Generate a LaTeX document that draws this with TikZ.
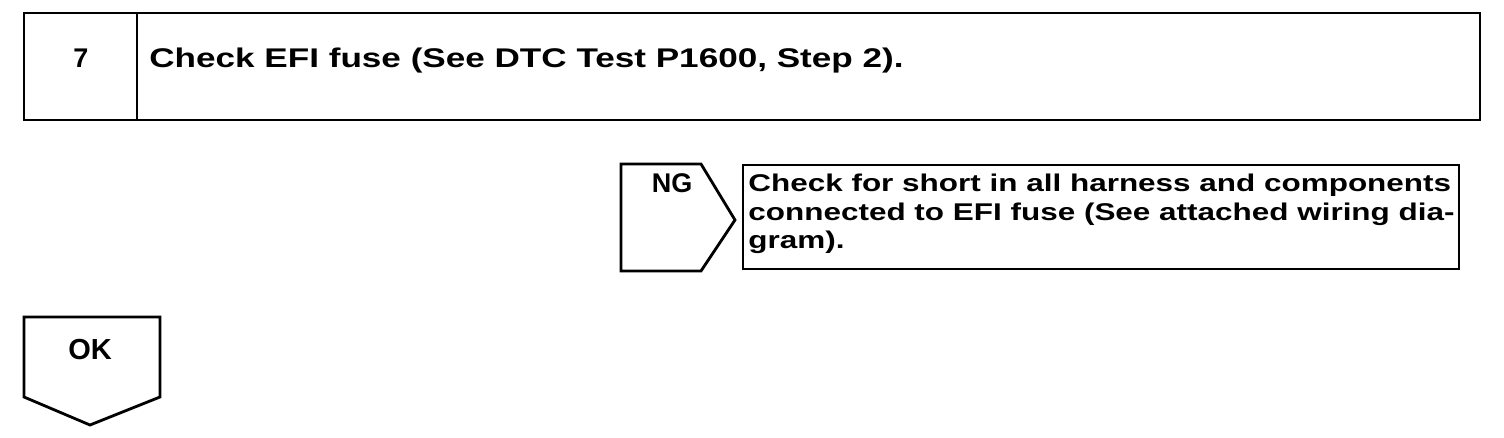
\documentclass[tikz,border=0pt]{standalone}
\usepackage{fontspec}
\setmainfont{Liberation Sans}
\newfontfamily\widesans[FakeStretch=1.3]{Liberation Sans}
\usetikzlibrary{positioning}

\begin{document}
\begin{tikzpicture}[x=0.5pt, y=-0.5pt, line width=1.4pt,
    lbl/.style={font=\fontsize{13.5}{13.5}\selectfont\bfseries, inner sep=0pt},
    wide/.style={font=\widesans\fontsize{13.5}{13.5}\selectfont\bfseries, inner sep=0pt},
    msg/.style={font=\widesans\fontsize{12.1}{14.2}\selectfont\bfseries, inner sep=0pt, align=left}]
        \useasboundingbox (0,0) rectangle (1504,438);
        % step header
        \draw (24,13) rectangle (1480,120);
        \draw (137,13) -- (137,120);
        \node[lbl, anchor=base] (num) at (81,68) {7};
        \node[wide, anchor=base west] (title) at (148,68) {Check EFI fuse (See DTC Test P1600, Step 2).};
        % NG branch
        \draw (621,164) -- (701,164) -- (735,220) -- (701,271) -- (621,271) -- cycle;
        \node[lbl, anchor=base] (ng) at (672,193) {NG};
        \draw (743,165) rectangle (1459,269);
        \node[msg, anchor=north west] (repair) at (747,173)
            {Check for short in all harness and components\\connected to EFI fuse (See attached wiring dia-\\gram).};
        % OK branch
        \draw (24,317) -- (160,317) -- (160,397) -- (90,425) -- (24,397) -- cycle;
        \node[lbl, anchor=base, font=\fontsize{14.5}{14.5}\selectfont\bfseries] (ok) at (90,359) {OK};
      \end{tikzpicture}
\end{document}
